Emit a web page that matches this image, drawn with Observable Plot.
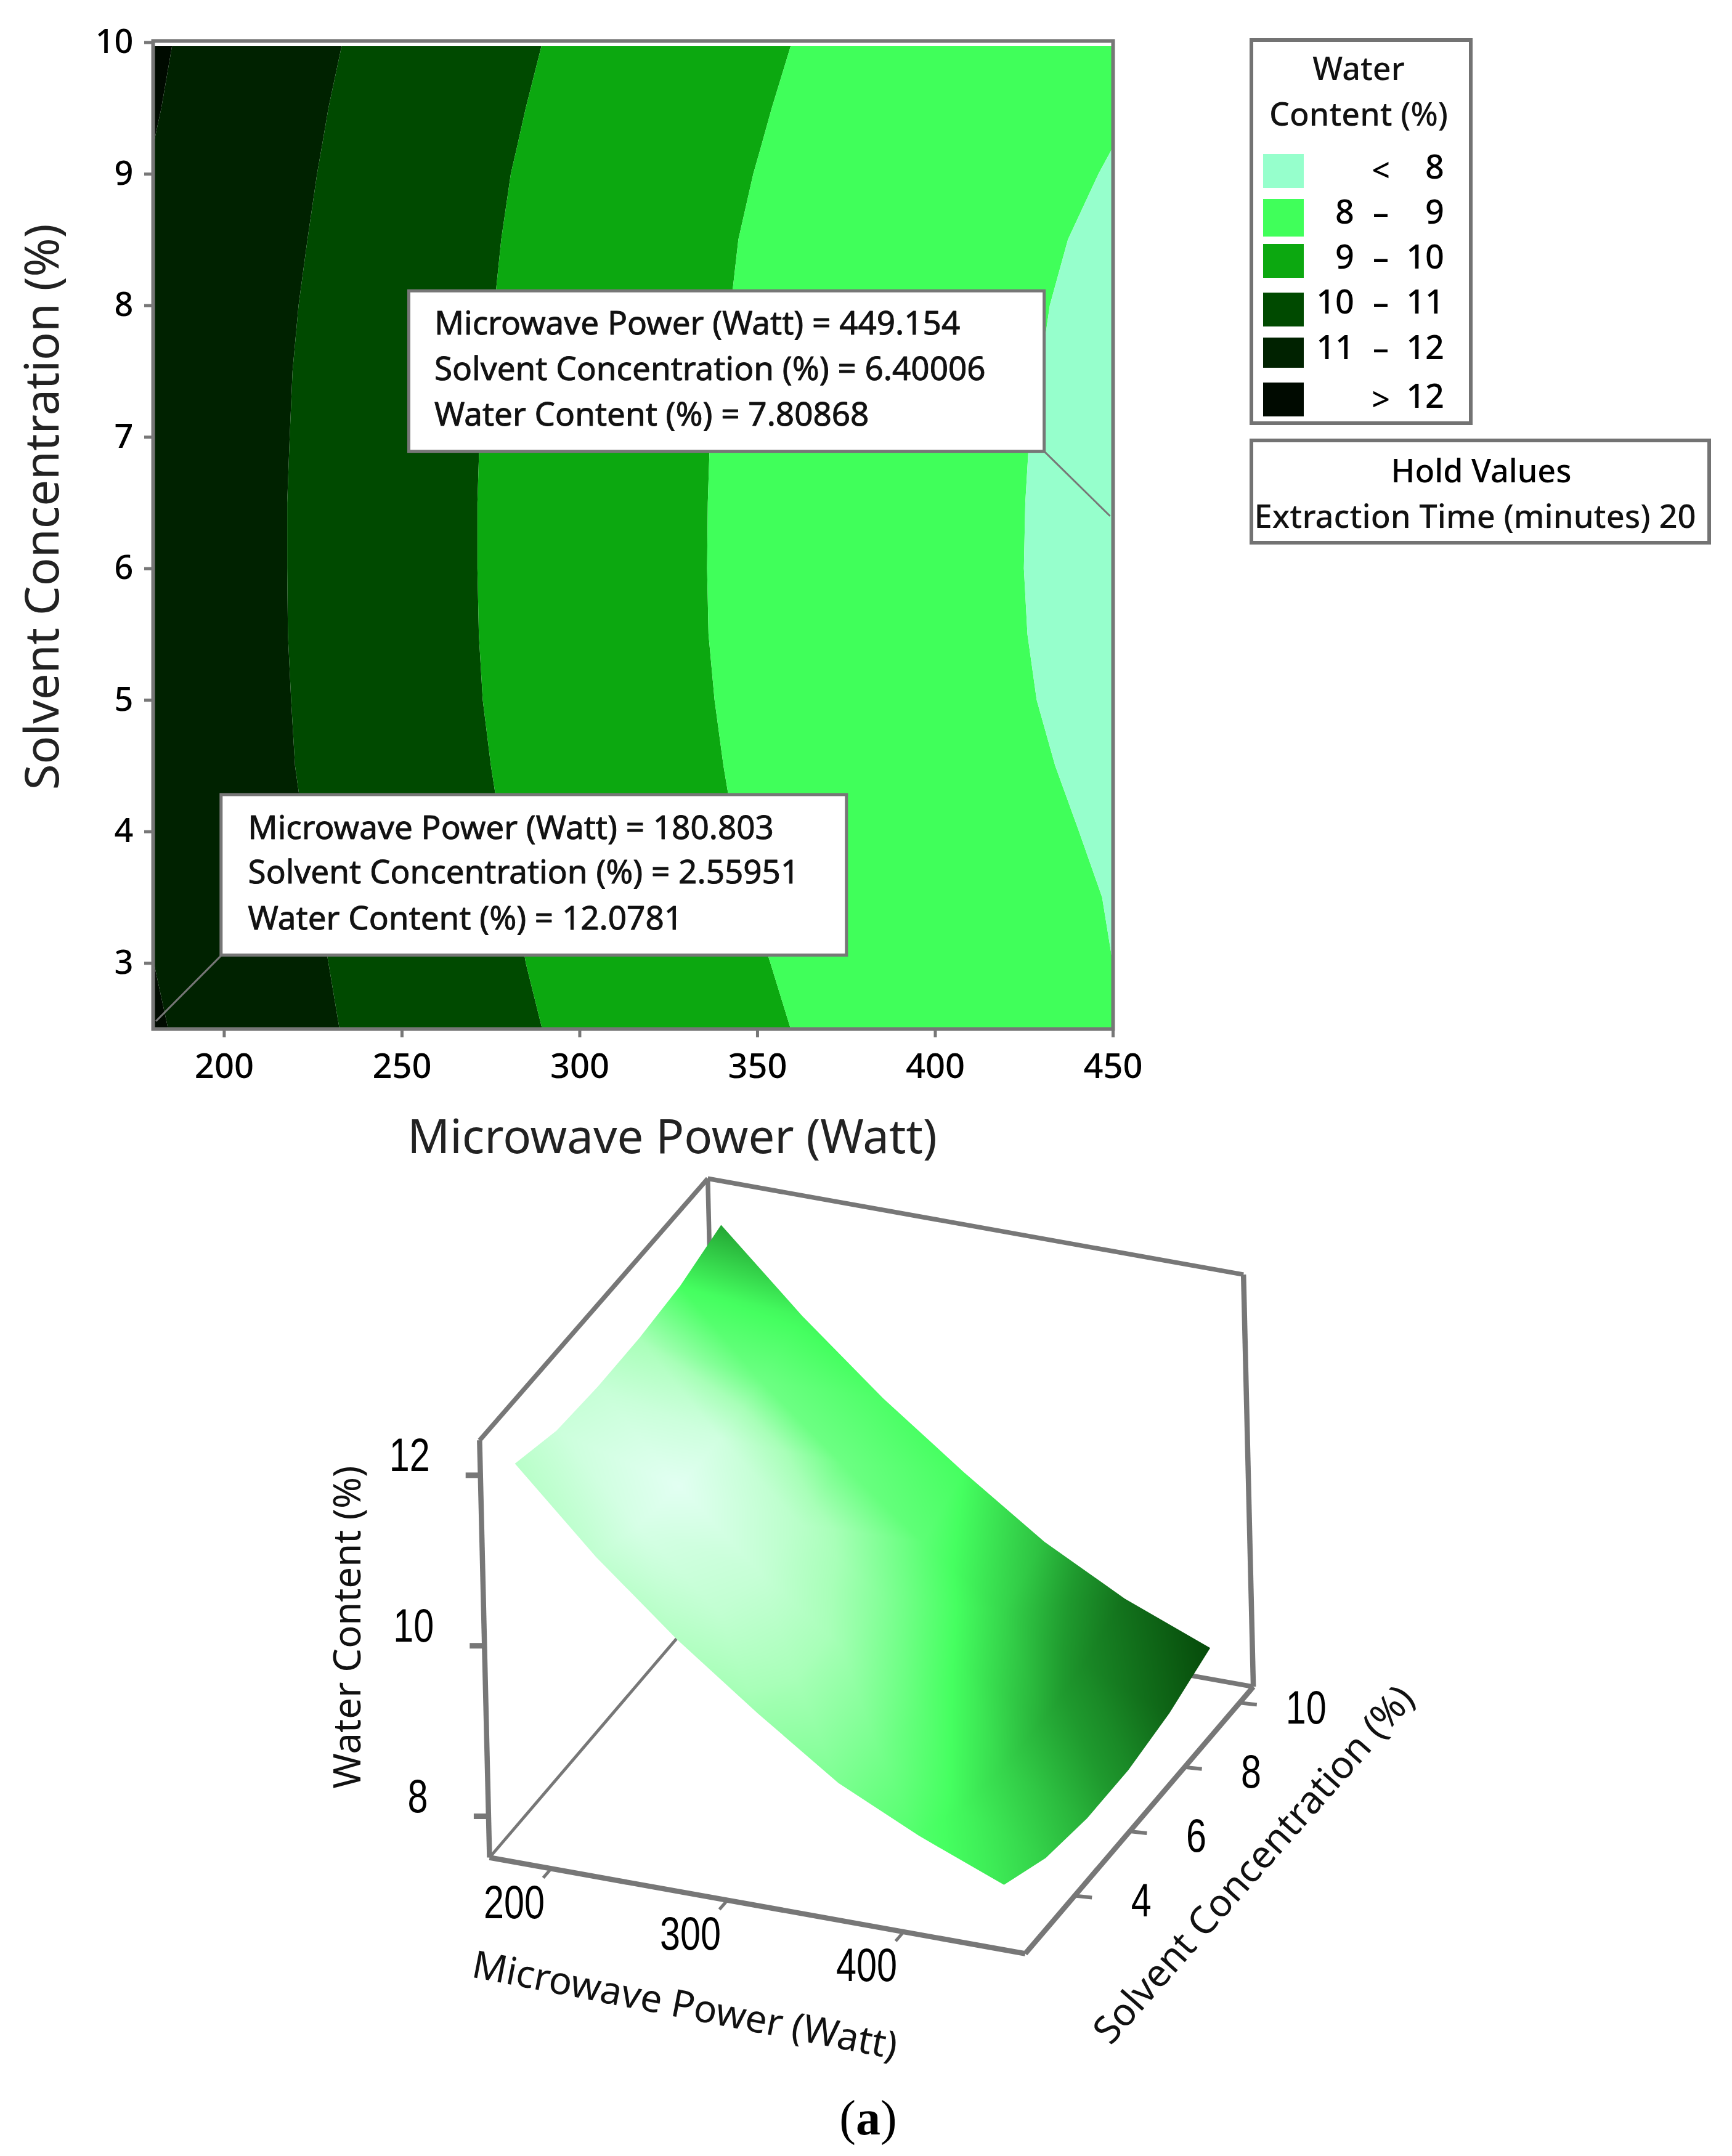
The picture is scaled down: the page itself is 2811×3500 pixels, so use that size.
<!DOCTYPE html>
<html>
<head>
<meta charset="utf-8">
<script src="https://cdn.jsdelivr.net/npm/d3@7"></script>
<script src="https://cdn.jsdelivr.net/npm/@observablehq/plot@0.6"></script>
<style>
html,body{margin:0;padding:0;background:#fff;}
#page{position:relative;width:2811px;height:3500px;overflow:hidden;background:#fff;font-family:"Noto Sans",sans-serif;color:#000;}
#page>svg{position:absolute;}
.t{position:absolute;white-space:nowrap;transform:translate(-50%,-50%);line-height:1;}
.box{position:absolute;box-sizing:border-box;border:6px solid #737373;background:#fff;}
.sw{position:absolute;}
</style>
</head>
<body>
<div id="page"></div>
<script>
// ---------- contour panel data ----------
const solventLevels = [2.5,3,3.5,4,4.5,5,5.5,6,6.5,7,7.5,8,8.5,9,9.2,9.5,9.97];
const powerAt12 = [184.3,180.3,180,180,180,180,180,180,180,180,180,180,180,180,180,182.4,185.4];
const powerAt11 = [232.5,229.4,226.2,222.6,220,218.9,218,217.8,217.8,218.5,219.3,221,223.5,226.2,227.5,229.4,233.1];
const powerAt10 = [289.5,284.9,281.8,278,275.1,272.8,271.7,271.3,271.3,271.9,273.8,276.1,278,280.7,282.4,284.9,289.3];
const powerAt9  = [359.4,353.7,347.8,343.6,340.5,338,336.3,335.9,336.1,336.7,339.5,342.6,344.7,348.9,351,354.1,359.4];
const powerAt8  = [450,450,447,440.5,433.8,428.6,426,425,425.4,426.5,429.6,432.3,437.4,446,450,450,450];
const legendLow  = ["", "8", "9", "10", "11", ""];
const legendHigh = ["8", "9", "10", "11", "12", "12"];
const legendMid  = ["<", "–", "–", "–", "–", ">"];
const bandColors = ["#96ffcc", "#40ff5a", "#0ca810", "#004a00", "#002200", "#000a00"];
const powerTicks = [200,250,300,350,400,450];
const solventTicks = [3,4,5,6,7,8,9,10];
const callouts = [
  {x1:252, x2:430.7, y1:6.89, y2:8.11, px:449.154, py:6.40006, cx:430.7, cy:6.89, tx:259.1,
   lines:["Microwave Power (Watt) = 449.154","Solvent Concentration (%) = 6.40006","Water Content (%) = 7.80868"], ty:[7.86,7.515,7.165]},
  {x1:199.2, x2:375.1, y1:3.06, y2:4.28, px:180.803, py:2.55951, cx:199.2, cy:3.06, tx:206.7,
   lines:["Microwave Power (Watt) = 180.803","Solvent Concentration (%) = 2.55951","Water Content (%) = 12.0781"], ty:[4.025,3.685,3.335]}
];

// ---------- surface panel data ----------
const gridPower = [180,225,270,315,360,405,453];
const gridSolvent = [2.5,4,5.5,7,8.5,10];
const waterRows = [
  [12.08,11.15,10.35,9.65,9.0,8.55,8.15],
  [11.9,10.95,10.1,9.4,8.75,8.3,7.9],
  [11.85,10.85,10.0,9.3,8.7,8.2,7.8],
  [11.85,10.85,10.0,9.3,8.7,8.2,7.8],
  [11.9,10.95,10.15,9.4,8.75,8.3,7.9],
  [12.05,11.15,10.35,9.65,9.0,8.5,8.1]
];
const shadeRows = [
  [0.18,0.14,0.2,0.28,0.36,0.47,0.56],
  [0.1,0.05,0.14,0.26,0.38,0.52,0.62],
  [0.12,0.0,0.12,0.27,0.44,0.6,0.7],
  [0.25,0.08,0.18,0.34,0.52,0.7,0.8],
  [0.5,0.4,0.4,0.44,0.6,0.8,0.92],
  [0.72,0.52,0.48,0.5,0.66,0.88,1.0]
];
const shadeStops = [0,0.25,0.5,0.75,1];
const shadeColors = ["#e2fff2","#a8ffb8","#45ff60","#1f9a2e","#064a0a"];
const waterTicks3d = [8,10,12];
const powerTicks3d = [200,300,400];
const solventTicks3d = [4,6,8,10];

const page = document.getElementById("page");
const font = '"Noto Sans",sans-serif';

// ---------- contour panel ----------
const rows = solventLevels.map((s,i)=>({s,a:180,b:powerAt12[i],c:powerAt11[i],d:powerAt10[i],e:powerAt9[i],f:powerAt8[i],g:450}));
const band = (k1,k2,color)=>Plot.areaX(rows,{y:"s",x1:k1,x2:k2,fill:color,curve:"linear"});
const calloutTexts = callouts.flatMap(c=>c.lines.map((t,i)=>({t,x:c.tx,y:c.ty[i]})));

const contour = Plot.plot({
  width:1980, height:1900,
  marginLeft:248, marginRight:174, marginTop:66, marginBottom:230,
  style:{fontFamily:font,background:"transparent",overflow:"visible"},
  x:{domain:[180,450],label:null},
  y:{domain:[2.5,10.012],label:null},
  marks:[
    band("a","b",bandColors[5]),
    band("b","c",bandColors[4]),
    band("c","d",bandColors[3]),
    band("d","e",bandColors[2]),
    band("e","f",bandColors[1]),
    band("f","g",bandColors[0]),
    Plot.link(callouts,{x1:"px",y1:"py",x2:"cx",y2:"cy",stroke:"#777",strokeWidth:3}),
    Plot.rect(callouts,{x1:"x1",x2:"x2",y1:"y1",y2:"y2",fill:"white",stroke:"#777",strokeWidth:5}),
    Plot.text(calloutTexts,{x:"x",y:"y",text:"t",textAnchor:"start",fontSize:53,fill:"#111",stroke:"#111",strokeWidth:0.9}),
    Plot.frame({stroke:"#777",strokeWidth:6}),
    Plot.axisX({anchor:"bottom",ticks:powerTicks,tickSize:14,tickPadding:26,fontSize:56,fontWeight:500,stroke:"#777",strokeWidth:5,label:null,tickFormat:d=>String(d),fill:"#000"}),
    Plot.axisY({anchor:"left",ticks:solventTicks,tickSize:14,tickPadding:18,fontSize:54,fontWeight:500,stroke:"#777",strokeWidth:5,label:null,tickFormat:d=>String(d),fill:"#000"}),
    Plot.text(["Microwave Power (Watt)"],{x:()=>326,frameAnchor:"bottom",dy:177,fontSize:76,fill:"#222",lineAnchor:"middle",textAnchor:"middle"}),
    Plot.text(["Solvent Concentration (%)"],{y:()=>6.47,frameAnchor:"left",dx:-178,rotate:-90,fontSize:76,fill:"#222",lineAnchor:"middle",textAnchor:"middle"})
  ]
});
contour.style.left="0px"; contour.style.top="0px";
page.appendChild(contour);

// ---------- legend ----------
function txt(s,x,y,size,extra){
  const d=document.createElement("div");d.className="t";d.textContent=s;
  d.style.left=x+"px";d.style.top=y+"px";d.style.fontSize=size+"px";
  if(extra)Object.assign(d.style,extra);page.appendChild(d);return d;
}
function box(x1,y1,x2,y2){
  const d=document.createElement("div");d.className="box";
  Object.assign(d.style,{left:x1+"px",top:y1+"px",width:(x2-x1)+"px",height:(y2-y1)+"px"});page.appendChild(d);
}
box(2028,62,2390,690);
box(2028,712,2777,884);
txt("Water",2205,110,52,{color:"#111",fontWeight:500});
txt("Content (%)",2205,184,52,{color:"#111",fontWeight:500});
txt("Hold Values",2404,763,52,{fontWeight:500});
txt("Extraction Time (minutes) 20",2394,837,52.5,{color:"#111",fontWeight:500});
const swatchTop=[250,323,396,475,548,621], swatchH=[55,61,55,55,49,55], rowY=[269,342,415,488,562,641];
bandColors.forEach((c,i)=>{
  const s=document.createElement("div");s.className="sw";
  Object.assign(s.style,{left:"2050px",top:swatchTop[i]+"px",width:"66px",height:swatchH[i]+"px",background:c});
  page.appendChild(s);
  const r=(str,x)=>{const d=txt(str,x,rowY[i],54,{fontWeight:500});d.style.transform="translate(-100%,-50%)";};
  if(legendLow[i])r(legendLow[i],2198);
  r(legendHigh[i],2344);
  txt(legendMid[i],2241,rowY[i]+(legendLow[i]?2:6),52,{fontWeight:500});
});

// ---------- surface panel ----------
const A=[794,3015], uP=[2.86,0.513], uS=[44.6,-52.2], uW=[-3.3,-138.4];
const P0=165,P1=469,S0=2.2,S1=10.5,W0=7.516,W1=12.41,W1back=12.35;
const px=d=>A[0]+(d.p-P0)*uP[0]+(d.s-S0)*uS[0]+(d.w-W0)*uW[0];
const py=d=>A[1]+(d.p-P0)*uP[1]+(d.s-S0)*uS[1]+(d.w-W0)*uW[1];
const pt=(p,s,w)=>({p,s,w});

const samples=gridSolvent.flatMap((s,j)=>gridPower.map((p,i)=>({p,s,w:waterRows[j][i],t:shadeRows[j][i]})));
const at=(j,i)=>samples[j*gridPower.length+i];
const nP=gridPower.length,nS=gridSolvent.length;
const outline=[
  ...gridPower.map((_,i)=>at(nS-1,i)),
  ...gridSolvent.map((_,j)=>at(nS-1-j,nP-1)).slice(1),
  ...gridPower.map((_,i)=>at(0,nP-1-i)).slice(1),
  ...gridSolvent.map((_,j)=>at(j,0)).slice(1,-1)
];
const cA=pt(P0,S0,W0),cB=pt(P1,S0,W0),cC=pt(P1,S1,W0),cD=pt(P0,S1,W0),
      tA=pt(P0,S0,W1),tC=pt(P1,S1,W1back),tD=pt(P0,S1,W1back);
const thick=[[cA,tA],[cA,cB],[cB,cC],[tC,cC]].map(([a,b])=>({a,b}));
const mid=[[tA,tD],[tD,tC],[tD,cD],[cD,cC]].map(([a,b])=>({a,b}));
const thin=[[cA,cD]].map(([a,b])=>({a,b}));

const wTicks=waterTicks3d.map(w=>pt(P0,S0,w));
const pTicks=powerTicks3d.map(p=>pt(p,S0,W0));
const sTicks=solventTicks3d.map(s=>pt(P1,s,W0));
const seg=(data,ox,oy,sw)=>Plot.link(data,{x1:px,y1:py,x2:d=>px(d)+ox,y2:d=>py(d)+oy,stroke:"#777",strokeWidth:sw});
const edges=(data,sw)=>Plot.link(data,{x1:d=>px(d.a),y1:d=>py(d.a),x2:d=>px(d.b),y2:d=>py(d.b),stroke:"#777",strokeWidth:sw});
const numFont='"Liberation Sans",sans-serif';

const surface=Plot.plot({
  width:2811,height:1620,margin:0,
  style:{fontFamily:font,background:"transparent",overflow:"visible"},
  x:{domain:[0,2811],range:[0,2811],axis:null},
  y:{domain:[1880,3500],range:[0,1620],axis:null},
  color:{type:"linear",domain:shadeStops,range:shadeColors},
  marks:[
    edges(thin,5), edges(mid,7.5), edges(thick,8.5),
    seg(wTicks,-24,0,9), seg(pTicks,-13,15,5), seg(sTicks,28,3,6),
    Plot.raster(samples,{x:px,y:py,fill:"t",interpolate:"barycentric"}),
    Plot.text(wTicks,{x:px,y:py,text:d=>String(d.w),dx:-115,dy:-31,fontSize:76,fontFamily:numFont,fill:"#000"}),
    Plot.text(pTicks,{x:px,y:py,text:d=>String(d.p),dx:-60,dy:56,fontSize:76,fontFamily:numFont,fill:"#000"}),
    Plot.text(sTicks,{x:px,y:py,text:d=>String(d.s),dx:108,dy:9,fontSize:76,fontFamily:numFont,fill:"#000"}),
    Plot.text(["Water Content (%)"],{x:()=>565,y:()=>2641,rotate:-90,fontSize:61.5,fill:"#111"}),
    Plot.text(["Microwave Power (Watt)"],{x:()=>1111,y:()=>3256,rotate:11,fontSize:62,fill:"#111"}),
    Plot.text(["Solvent Concentration (%)"],{x:()=>2035,y:()=>3027,rotate:-48.6,fontSize:62,fill:"#111"})
  ]
});
surface.style.left="0px"; surface.style.top="1880px";
page.appendChild(surface);

// narrow the surface's number labels to the reference's condensed digits
surface.querySelectorAll("text").forEach(t=>{
  const s=t.textContent.trim();
  if(/^\d+$/.test(s)){t.setAttribute("textLength",String(s.length*33));t.setAttribute("lengthAdjust","spacingAndGlyphs");}
});

// keep the raster inside the projected outline of the surface
(function(){
  const img=surface.querySelector("image");
  if(!img)return;
  const ns="http://www.w3.org/2000/svg";
  const defs=document.createElementNS(ns,"defs");
  const cp=document.createElementNS(ns,"clipPath");cp.setAttribute("id","surfaceClip");
  const poly=document.createElementNS(ns,"polygon");
  poly.setAttribute("points",outline.map(d=>px(d)+","+(py(d)-1880)).join(" "));
  cp.appendChild(poly);defs.appendChild(cp);surface.insertBefore(defs,surface.firstChild);
  img.parentNode.setAttribute("clip-path","url(#surfaceClip)");
})();

// ---------- caption ----------
const cap=txt("",1409,3438,80,{fontFamily:'"Liberation Serif",serif'});
cap.innerHTML='(<b>a</b>)';
</script>
</body>
</html>
